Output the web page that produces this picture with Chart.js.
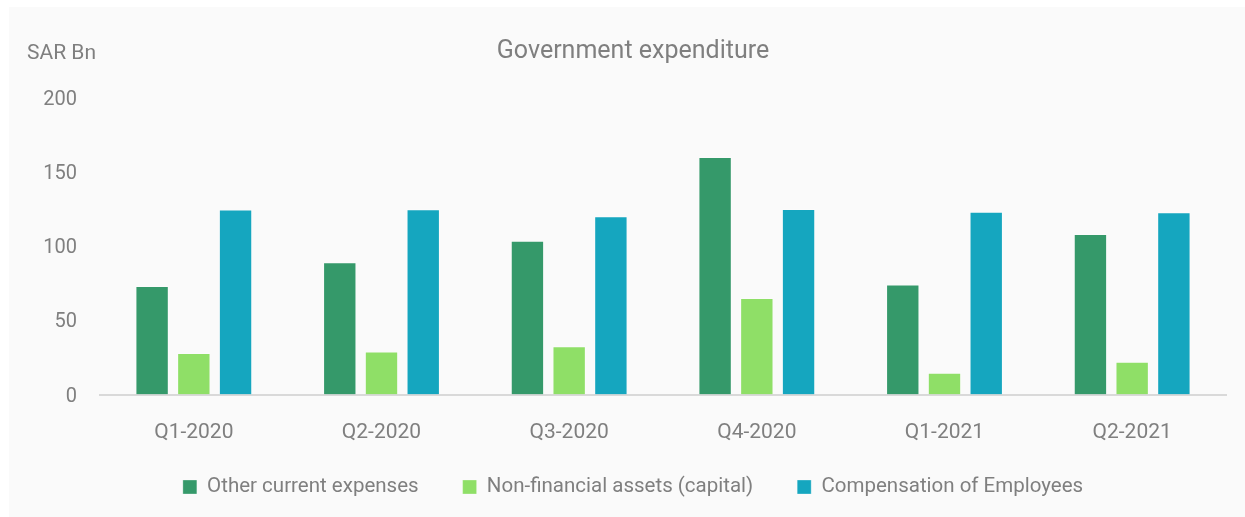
<!DOCTYPE html>
<html>
<head>
<meta charset="utf-8">
<script src="https://cdn.jsdelivr.net/npm/chart.js@4.4.1/dist/chart.umd.min.js"></script>
<style>
  html, body { margin: 0; padding: 0; background: #ffffff; }
  #card { position: absolute; left: 9px; top: 7px; width: 1236px; height: 510px; background: #fafafa; }
  #wrap { position: absolute; left: 0; top: 0; width: 1245px; height: 517px; }
</style>
</head>
<body>
<div id="card"></div>
<div id="wrap"><canvas id="expChart"></canvas></div>
<script>
// 데이터 (SAR Bn)
const quarters = ['Q1-2020', 'Q2-2020', 'Q3-2020', 'Q4-2020', 'Q1-2021', 'Q2-2021'];
const otherCurrent = [73, 89, 103.5, 160, 74, 108];
const nonFinancial = [28, 29, 32.5, 65, 14.6, 22];
const compensation = [124.5, 124.7, 120, 125, 123, 122.7];
const yTicks = [0, 50, 100, 150, 200];

const textGrey = '#7f7f7f';
const fontFamily = 'Roboto, "Noto Sans", sans-serif';
const legendFont = 20.5;
const legendGap = 44;      // 범례 항목 사이 가로 간격
const legendVPad = 28.25;  // 범례 위쪽 여백

// y축 위 단위 표시
const unitLabel = {
  id: 'unitLabel',
  afterDraw(chart) {
    const ctx = chart.ctx;
    ctx.save();
    ctx.font = '21px ' + fontFamily;
    ctx.fillStyle = textGrey;
    ctx.textAlign = 'right';
    ctx.textBaseline = 'middle';
    ctx.fillText('SAR Bn', chart.chartArea.left - 4, 54);
    ctx.restore();
  }
};

// 범례: 가로 간격은 넓게, 세로 여백은 작게
const legendSpacing = {
  id: 'legendSpacing',
  afterInit(chart) {
    const lg = chart.legend;
    const origFit = lg.fit;
    lg.fit = function () {
      origFit.call(this);
      this.height = legendFont + legendVPad + 10;
    };
  },
  afterLayout(chart) {
    // 위쪽 경계만 올려서 그리기 위치 보정 (아래는 그대로 두어 잘림 방지)
    chart.legend.top -= (legendGap - legendVPad);
  }
};

const barStyle = {
  borderWidth: 1,
  borderColor: 'rgba(255,255,255,0.3)',
  categoryPercentage: 0.667,
  barPercentage: 0.8
};

const ctx = document.getElementById('expChart');
const expChart = new Chart(ctx, {
  type: 'bar',
  data: {
    labels: quarters,
    datasets: [
      Object.assign({ label: 'Other current expenses', data: otherCurrent, backgroundColor: '#35996a' }, barStyle),
      Object.assign({ label: 'Non-financial assets (capital)', data: nonFinancial, backgroundColor: '#8fdf67' }, barStyle),
      Object.assign({ label: 'Compensation of Employees', data: compensation, backgroundColor: '#15a6bf' }, barStyle)
    ]
  },
  options: {
    responsive: true,
    maintainAspectRatio: false,
    animation: false,
    layout: { padding: { left: 40, right: 19, top: 0, bottom: 9.75 } },
    plugins: {
      title: {
        display: true,
        text: 'Government expenditure',
        color: textGrey,
        font: { family: fontFamily, size: 25, weight: 'normal' },
        padding: { top: 37, bottom: 30.5 }
      },
      legend: {
        position: 'bottom',
        labels: {
          color: textGrey,
          font: { family: fontFamily, size: legendFont },
          boxWidth: 14,
          boxHeight: 14,
          padding: legendGap
        }
      },
      tooltip: { enabled: false }
    },
    scales: {
      x: {
        afterFit(scale) { scale.height = 54; },
        grid: { display: false },
        border: { display: true, color: '#d9d9d9', width: 2 },
        ticks: { color: textGrey, font: { family: fontFamily, size: 21 }, padding: 18 }
      },
      y: {
        min: 0,
        max: 200,
        afterFit(scale) { scale.width = 60; },
        afterBuildTicks(scale) { scale.ticks = yTicks.map(v => ({ value: v })); },
        grid: { display: false },
        border: { display: false },
        ticks: { color: textGrey, font: { family: fontFamily, size: 20 }, padding: 15, labelOffset: 2 }
      }
    }
  },
  plugins: [unitLabel, legendSpacing]
});
</script>
</body>
</html>
